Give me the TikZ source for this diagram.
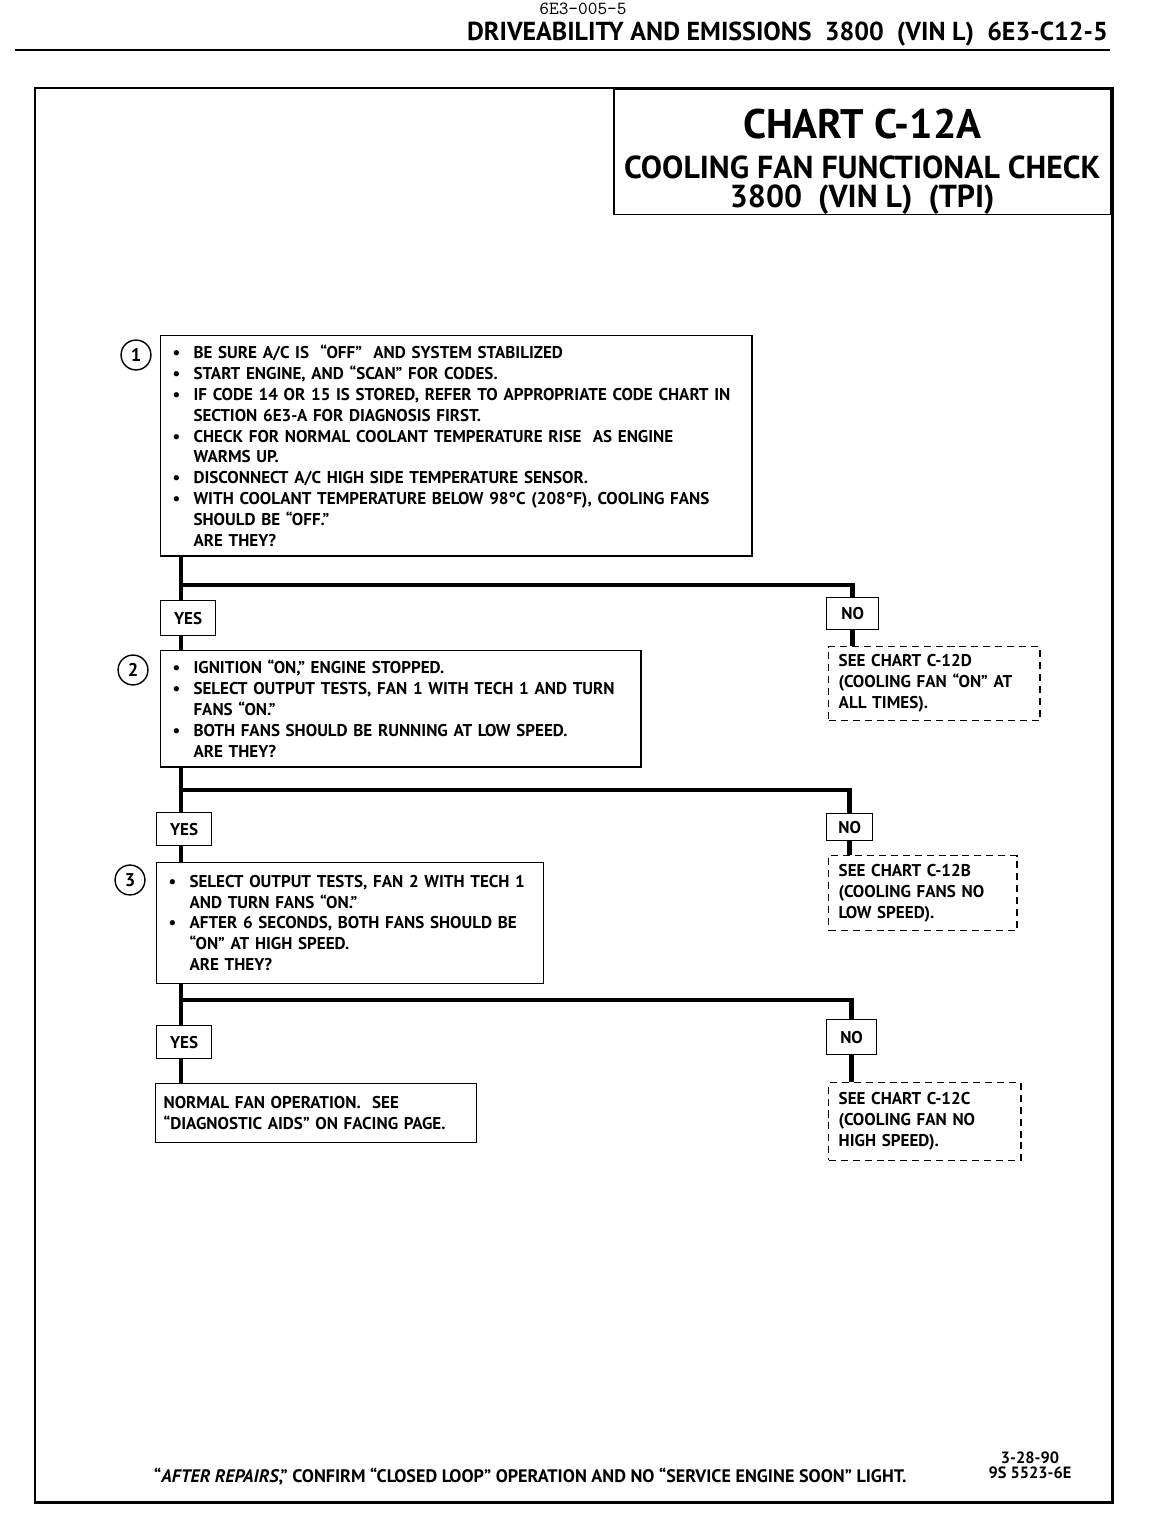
\documentclass[tikz,border=0pt]{standalone}
\usepackage{fontspec}
\setmainfont{PT Sans}
\usetikzlibrary{positioning}

\newcommand{\bodyfont}{\fontsize{9.7}{11.9}\selectfont\bfseries}
\newcommand{\bul}{\makebox[11.9pt][l]{\textbullet}}
\newcommand{\ind}{\hspace*{11.9pt}}

\begin{document}
\begin{tikzpicture}[
    x=0.02cm, y=-0.02cm,
    stepbox/.style={draw, line width=0.8pt, anchor=north west, inner xsep=6.8pt, inner ysep=0pt, align=left, font=\bodyfont},
    answer/.style={draw, line width=0.8pt, anchor=north west, inner sep=0pt, font=\bodyfont},
    refbox/.style={draw, dashed, dash pattern=on 4pt off 2.8pt, line width=0.8pt, anchor=north west, inner xsep=5.7pt, inner ysep=0pt, align=left, font=\bodyfont},
    numcirc/.style={circle, draw, line width=0.8pt, minimum size=17pt, inner sep=0pt, font=\fontsize{10.5}{10.5}\selectfont\bfseries},
    flow/.style={line width=2.5pt}
]
\useasboundingbox (0,0) rectangle (1152,1520);

% Page header
\node[anchor=base, font=\fontsize{10.5}{10.5}\ttfamily] (pageno) at (583,15) {6E3-005-5};
\node[anchor=base east, font=\fontsize{14.8}{14.8}\selectfont\bfseries] (header) at (1114,41) {DRIVEABILITY AND EMISSIONS\ \ 3800\ \ (VIN L)\ \ 6E3-C12-5};
\draw[line width=1.6pt] (15,50) -- (1110,50);

% Frame
\draw[line width=1.7pt] (35,88) rectangle (1112,1502);

% Title
\node[draw, line width=0.9pt, anchor=north west, minimum width=282.9pt, inner ysep=0pt, align=center, font=\fontsize{18.1}{16.5}\selectfont\bfseries] (title) at (613,88)
    {{\fontsize{23.5}{26}\selectfont\rule{0pt}{28.5pt}CHART C-12A}\\[6pt]
     COOLING FAN FUNCTIONAL CHECK\\
     3800\ \ (VIN L)\ \ (TPI)};

% Steps
\node[stepbox, text width=323pt, minimum height=125.3pt] (box1) at (160,335) {
    \bul BE SURE A/C IS\ \ ``OFF''\ \ AND SYSTEM STABILIZED\\
    \bul START ENGINE,\ AND ``SCAN'' FOR CODES.\\
    \bul IF CODE 14 OR 15 IS STORED,\ REFER TO APPROPRIATE CODE CHART IN\\
    \ind SECTION 6E3-A FOR DIAGNOSIS FIRST.\\
    \bul CHECK FOR NORMAL COOLANT TEMPERATURE RISE\ \ AS ENGINE\\
    \ind WARMS UP.\\
    \bul DISCONNECT A/C HIGH SIDE TEMPERATURE SENSOR.\\
    \bul WITH COOLANT TEMPERATURE BELOW 98°C (208°F),\ COOLING FANS\\
    \ind SHOULD BE ``OFF.''\\
    \ind ARE THEY?};
\node[numcirc] (n1) at (136,355) {1};

\node[stepbox, text width=259.7pt, minimum height=66.3pt] (box2) at (160,650) {
    \bul IGNITION ``ON,'' ENGINE STOPPED.\\
    \bul SELECT\ OUTPUT TESTS, FAN 1 WITH TECH 1 AND TURN\\
    \ind FANS ``ON.''\\
    \bul BOTH FANS SHOULD BE RUNNING AT LOW SPEED.\\
    \ind ARE THEY?};
\node[numcirc] (n2) at (133,670) {2};

\node[stepbox, text width=206.4pt, minimum height=68.6pt] (box3) at (156,862) {
    \bul SELECT OUTPUT TESTS, FAN 2 WITH TECH 1\\
    \ind AND TURN FANS ``ON.''\\
    \bul AFTER 6 SECONDS, BOTH FANS SHOULD BE\\
    \ind ``ON'' AT HIGH SPEED.\\
    \ind ARE THEY?};
\node[numcirc] (n3) at (130,880) {3};

\node[stepbox, inner xsep=4.5pt, text width=173.6pt, minimum height=33.4pt] (normal) at (155,1083) {
    NORMAL FAN OPERATION.\ \ SEE\\
    ``DIAGNOSTIC AIDS'' ON FACING PAGE.};

% Yes / No
\node[answer, minimum width=31.2pt, minimum height=19.8pt] (yes1) at (160,600) {YES};
\node[answer, minimum width=29.5pt, minimum height=18.1pt] (no1) at (826,597) {NO};
\node[answer, minimum width=31.2pt, minimum height=18.7pt] (yes2) at (156,812) {YES};
\node[answer, minimum width=26.1pt, minimum height=15.3pt] (no2) at (826,813) {NO};
\node[answer, minimum width=31.2pt, minimum height=18.7pt] (yes3) at (156,1025) {YES};
\node[answer, minimum width=28.3pt, minimum height=19.8pt] (no3) at (826,1019) {NO};

% Chart references
\node[refbox, text width=108.8pt, minimum height=42pt] (see1) at (828,646) {
    SEE\ CHART C-12D\\
    (COOLING FAN ``ON'' AT\\
    ALL TIMES).};
\node[refbox, text width=95.8pt, minimum height=42.5pt] (see2) at (828,855) {
    SEE CHART C-12B\\
    (COOLING FANS NO\\
    LOW SPEED).};
\node[refbox, text width=98pt, minimum height=44.2pt] (see3) at (828,1082) {
    SEE\ CHART C-12C\\
    (COOLING FAN NO\\
    HIGH SPEED).};

% Connectors
\coordinate (trunk) at (181,0);
\coordinate (fork1) at (0,585);
\coordinate (fork2) at (0,790);
\coordinate (fork3) at (0,1000);

\draw[flow] (box1.south -| trunk) -- (yes1.north -| trunk);
\draw[flow] (fork1 -| trunk) -| (no1.north);
\draw[flow] (no1.south) -- (no1.south |- see1.north);
\draw[flow] (yes1.south -| trunk) -- (box2.north -| trunk);

\draw[flow] (box2.south -| trunk) -- (yes2.north -| trunk);
\draw[flow] (fork2 -| trunk) -| (no2.north);
\draw[flow] (no2.south) -- (no2.south |- see2.north);
\draw[flow] (yes2.south -| trunk) -- (box3.north -| trunk);

\draw[flow] (box3.south -| trunk) -- (yes3.north -| trunk);
\draw[flow] (fork3 -| trunk) -| (no3.north);
\draw[flow] (no3.south) -- (no3.south |- see3.north);
\draw[flow] (yes3.south -| trunk) -- (normal.north -| trunk);

% Footer
\node[anchor=base west, font=\fontsize{10.3}{10.3}\selectfont\bfseries] (footer) at (148,1482)
    {``\textit{AFTER REPAIRS},'' CONFIRM ``CLOSED LOOP'' OPERATION AND NO ``SERVICE ENGINE SOON'' LIGHT.};
\node[anchor=base, font=\fontsize{9.3}{9.3}\selectfont\bfseries] (date) at (1030,1463) {3-28-90};
\node[anchor=base, font=\fontsize{9.3}{9.3}\selectfont\bfseries] (code) at (1030,1478) {9S 5523-6E};

\end{tikzpicture}
\end{document}
